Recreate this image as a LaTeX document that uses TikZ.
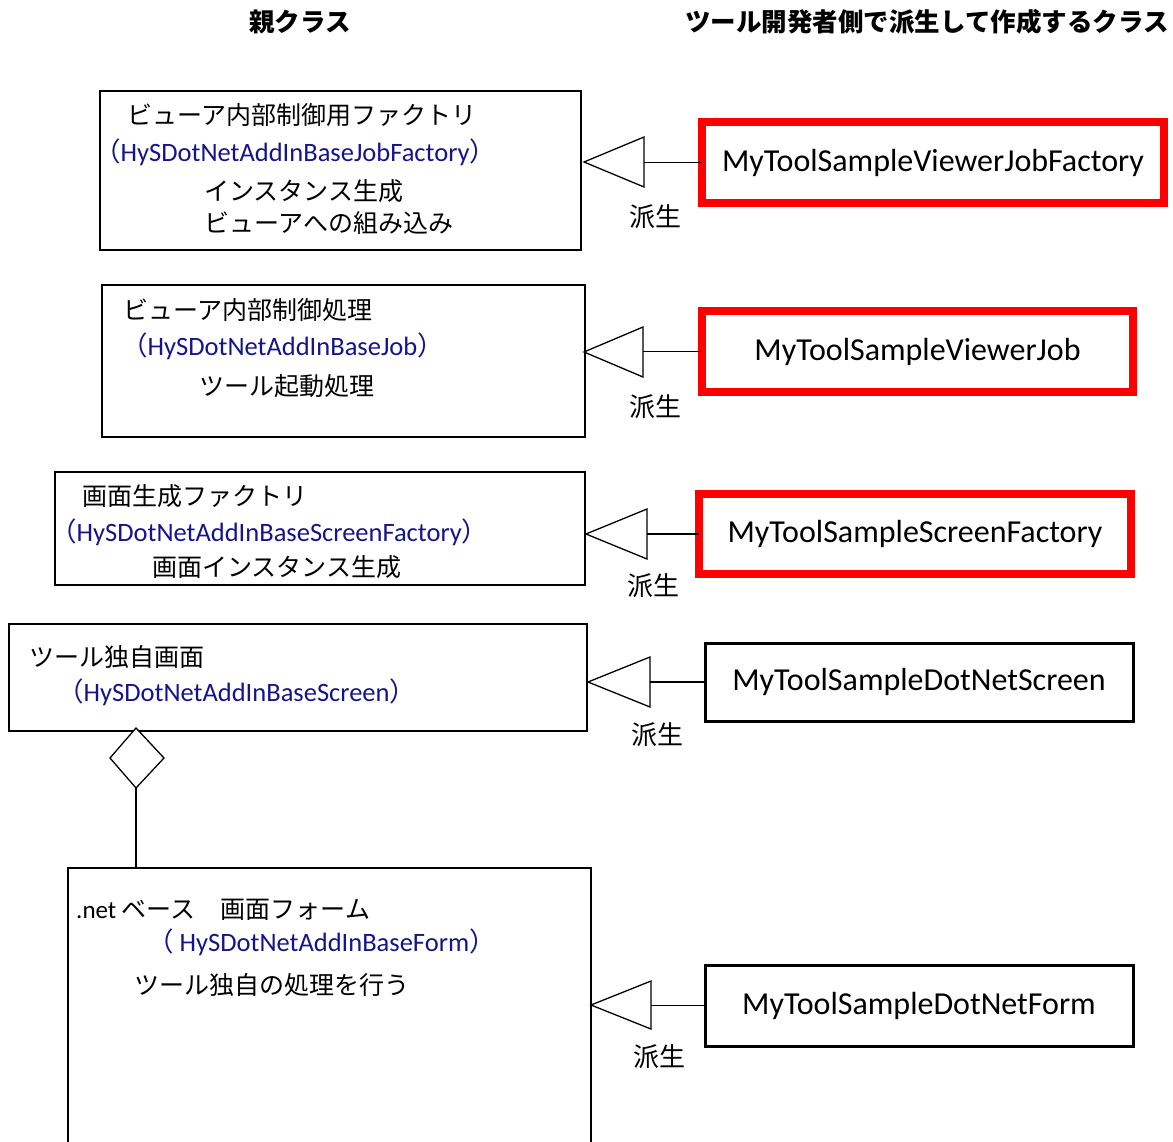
\documentclass[tikz,border=0pt]{standalone}
\usepackage{fontspec}
\setmainfont{Carlito}
\newfontfamily\jp{Noto Sans CJK JP}
\definecolor{navy}{RGB}{20,20,140}
\begin{document}
\begin{tikzpicture}[x=1pt,y=-1pt,
  pbox/.style={draw,line width=1.3pt,inner sep=0pt,outer sep=0pt,anchor=north west},
  rbox/.style={draw=red,line width=8pt,inner sep=0pt,outer sep=0pt,anchor=north west,font=\fontsize{32}{38}\selectfont},
  kbox/.style={draw,line width=3pt,inner sep=0pt,outer sep=0pt,anchor=north west,font=\fontsize{32}{38}\selectfont},
  jtext/.style={anchor=west,inner sep=0pt,font=\jp\fontsize{25}{30}\selectfont},
  btext/.style={anchor=west,inner sep=0pt,text=navy,font=\fontsize{26.5}{30}\selectfont},
  lbl/.style={inner sep=0pt,font=\jp\fontsize{26}{30}\selectfont},
  ttl/.style={inner sep=0pt,font=\jp\bfseries\fontsize{25.5}{30}\selectfont},
  tri/.style={draw,line width=1.3pt,fill=white,line join=miter},
  conn/.style={line width=1.6pt}
]
\useasboundingbox (0,0) rectangle (1173,1142);
\clip (0,0) rectangle (1173,1142);
\fill[white] (0,0) rectangle (1173,1142);

% titles
\node[ttl] (t1) at (300,22) {親クラス};
\node[ttl] (t2) at (927,22) {ツール開発者側で派生して作成するクラス};

% ---------- row 1
\node[pbox,minimum width=481pt,minimum height=159pt] (p1) at (100,91) {};
\node[jtext] (p1a) at (127,115) {ビューア内部制御用ファクトリ};
\node[btext] (p1b) at (94,152) {{\jp （}HySDotNetAddInBaseJobFactory{\jp ）}};
\node[jtext] (p1c) at (204,191) {インスタンス生成};
\node[jtext] (p1d) at (204,223) {ビューアへの組み込み};
\node[rbox,minimum width=462pt,minimum height=81pt] (c1) at (702,122) {MyToolSampleViewerJobFactory};
\coordinate (tip1) at (584,162);
\coordinate (base1) at (644,162);
\draw[tri] (tip1) -- (644,137) -- (644,187) -- cycle;
\draw[conn] (c1.west) -- (c1.west -| base1);
\node[lbl] (l1) at (655,217) {派生};

% ---------- row 2
\node[pbox,minimum width=483pt,minimum height=152pt] (p2) at (102,285) {};
\node[jtext] (p2a) at (123,310) {ビューア内部制御処理};
\node[btext] (p2b) at (121,346) {{\jp （}HySDotNetAddInBaseJob{\jp ）}};
\node[jtext] (p2c) at (199,386) {ツール起動処理};
\node[rbox,minimum width=431pt,minimum height=81pt] (c2) at (702,311) {MyToolSampleViewerJob};
\coordinate (tip2) at (584,352);
\coordinate (base2) at (643,352);
\draw[tri] (tip2) -- (643,327) -- (643,377) -- cycle;
\draw[conn] (c2.west) -- (c2.west -| base2);
\node[lbl] (l2) at (655,407) {派生};

% ---------- row 3
\node[pbox,minimum width=530pt,minimum height=113pt] (p3) at (55,472) {};
\node[jtext] (p3a) at (82,496) {画面生成ファクトリ};
\node[btext] (p3b) at (50,532) {{\jp （}HySDotNetAddInBaseScreenFactory{\jp ）}};
\node[jtext] (p3c) at (152,567) {画面インスタンス生成};
\node[rbox,minimum width=432pt,minimum height=80pt] (c3) at (699,494) {MyToolSampleScreenFactory};
\coordinate (tip3) at (586,534);
\coordinate (base3) at (647,534);
\draw[tri] (tip3) -- (647,509) -- (647,559) -- cycle;
\draw[conn] (c3.west) -- (c3.west -| base3);
\node[lbl] (l3) at (653,586) {派生};

% ---------- row 4
\node[pbox,minimum width=578pt,minimum height=107pt] (p4) at (9,624) {};
\node[jtext] (p4a) at (29,657) {ツール独自画面};
\node[btext] (p4b) at (57,692) {{\jp （}HySDotNetAddInBaseScreen{\jp ）}};
\node[kbox,minimum width=428pt,minimum height=78pt] (c4) at (705,643) {MyToolSampleDotNetScreen};
\coordinate (tip4) at (588,682);
\coordinate (base4) at (650,682);
\draw[tri] (tip4) -- (650,657) -- (650,707) -- cycle;
\draw[conn] (c4.west) -- (c4.west -| base4);
\node[lbl] (l4) at (657,735) {派生};

% aggregation diamond
\coordinate (dtop) at (136,728);
\coordinate (dbot) at (136,788);
\draw[tri] (dtop) -- (164,758) -- (dbot) -- (110,758) -- cycle;

% ---------- row 5
\node[pbox,minimum width=523pt,minimum height=320pt] (p5) at (68,868) {};
\draw[conn] (dbot) -- (dbot |- p5.north);
\node[anchor=west,inner sep=0pt,font=\fontsize{25}{30}\selectfont] (p5a) at (76,910) {.net {\jp ベース　画面フォーム}};
\node[btext] (p5b) at (147,942) {{\jp （} HySDotNetAddInBaseForm{\jp ）}};
\node[jtext] (p5c) at (134,985) {ツール独自の処理を行う};
\node[kbox,minimum width=428pt,minimum height=81pt] (c5) at (705,965) {MyToolSampleDotNetForm};
\coordinate (tip5) at (591,1005);
\coordinate (base5) at (651,1005);
\draw[tri] (tip5) -- (651,981) -- (651,1029) -- cycle;
\draw[conn] (c5.west) -- (c5.west -| base5);
\node[lbl] (l5) at (659,1057) {派生};
\end{tikzpicture}
\end{document}
